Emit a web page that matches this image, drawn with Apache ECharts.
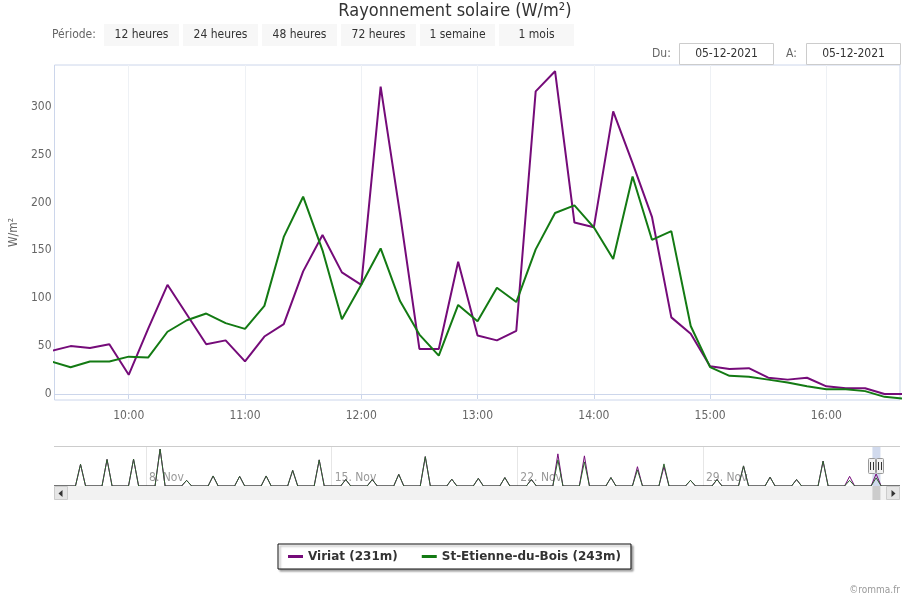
<!DOCTYPE html>
<html>
<head>
<meta charset="utf-8">
<script src="https://cdn.jsdelivr.net/npm/echarts@6/dist/echarts.min.js"></script>
<style>
html,body{margin:0;padding:0;background:#fff;}
#chart{width:910px;height:600px;}
</style>
</head>
<body>
<div id="chart"></div>
<script>
// ---- Data ----
const times = ['09:20','09:30','09:40','09:50','10:00','10:10','10:20','10:30','10:40','10:50',
  '11:00','11:10','11:20','11:30','11:40','11:50','12:00','12:10','12:20','12:30',
  '12:40','12:50','13:00','13:10','13:20','13:30','13:40','13:50','14:00','14:10',
  '14:20','14:30','14:40','14:50','15:00','15:10','15:20','15:30','15:40','15:50',
  '16:00','16:10','16:20','16:30','16:40'];
const viriat = [45,50,48,52,20,68,114,83,52,56,
  34,60,73,128,166,127,114,321,188,47,
  47,138,61,56,66,316,337,179,174,295,
  241,185,80,63,29,26,27,17,15,17,
  8,6,6,0,0];
const stEtienne = [34,28,34,34,39,38,65,77,84,74,
  68,92,164,206,150,78,114,152,97,62,
  40,93,76,111,96,151,189,197,174,141,
  227,161,170,71,28,19,18,15,12,8,
  5,5,3,-3,-5];
const xTickLabels = ['10:00','11:00','12:00','13:00','14:00','15:00','16:00'];
const yTickValues = [0,50,100,150,200,250,300];

// Navigator: daily peaks for the month (day number counted from 1 Nov: 5 = 5 Nov, 35 = 5 Dec)
const navDays = [5,6,7,8,9,10,11,12,13,14,15,16,17,18,19,20,21,22,23,24,25,26,27,28,29,30,31,32,33,34,35];
const navViriat = [605,740,750,1030,157,280,270,280,437,728,180,180,325,818,190,213,235,180,896,840,235,538,538,157,180,560,246,180,694,269,336];
const navStEtienne = [605,740,750,1030,157,280,270,280,437,728,180,180,325,818,190,213,235,180,728,672,235,450,616,157,180,560,246,180,694,157,227];
const navTickDays = [8,15,22,29];
const navTickLabels = ['8. Nov','15. Nov','22. Nov','29. Nov'];
const currentDay = 35;

const periodButtons = ['12 heures','24 heures','48 heures','72 heures','1 semaine','1 mois'];
const dateFrom = '05-12-2021';
const dateTo = '05-12-2021';

const names = ['Viriat (231m)','St-Etienne-du-Bois (243m)'];
const colors = ['#750b79','#137a13'];

// ---- helpers ----
const toMin = s => { const p = s.split(':').map(Number); return p[0]*60 + p[1]; };
const fmtMin = v => { const h = Math.floor(v/60), m = Math.round(v%60); return (h<10?'0':'')+h+':'+(m<10?'0':'')+m; };
const xTickValues = xTickLabels.map(toMin);

const X_MIN = 561.7, X_MAX = 998;
const NAV_MIN = 4.53, NAV_MAX = 36.43;

// daylight window of each day (fraction of day): sunrise, noon peak, sunset
const SUNRISE = 0.34, PEAK = 0.53, SUNSET = 0.72;
function navSeries(peaks){
  const pts = [[NAV_MIN,0]];
  navDays.forEach((d,i)=>{
    pts.push([d+SUNRISE,0],[d+PEAK,peaks[i]],[d+SUNSET,0]);
  });
  pts.push([NAV_MAX,0]);
  return pts;
}

const FONT = '"DejaVu Sans Condensed", "DejaVu Sans", sans-serif';
const FONT_LEG = '"DejaVu Sans", sans-serif';
const winStart = currentDay + X_MIN/1440;
const winEnd = currentDay + X_MAX/1440;

const chart = echarts.init(document.getElementById('chart'), null, {renderer:'canvas', width:910, height:600});

const option = {
  animation:false,
  backgroundColor:'#ffffff',
  title:{
    text:'Rayonnement solaire (W/m²)',
    left:'center', top:2, padding:0,
    textStyle:{fontSize:18, fontWeight:'normal', color:'#333333', fontFamily:FONT}
  },
  legend:{
    data:names,
    left:278, top:544,
    padding:[5,10],
    itemGap:24,
    itemWidth:15, itemHeight:3,
    icon:'rect',
    backgroundColor:'#ffffff',
    borderColor:'#111111', borderWidth:1, borderRadius:0,
    shadowColor:'rgba(0,0,0,0.35)', shadowBlur:2, shadowOffsetX:2, shadowOffsetY:2,
    textStyle:{fontSize:12, fontWeight:'bold', color:'#333333', fontFamily:FONT_LEG, lineHeight:15},
    selectedMode:false
  },
  grid:[
    {left:54, right:10, top:65, height:335, show:true, borderColor:'#ccd6eb', borderWidth:1, containLabel:false},
    {left:54, right:10, top:446, height:40, show:false, containLabel:false}
  ],
  xAxis:[
    {
      type:'value', gridIndex:0, min:X_MIN, max:X_MAX,
      axisLine:{show:true, lineStyle:{color:'#ccd6eb'}},
      axisTick:{show:true, customValues:xTickValues, length:5, lineStyle:{color:'#ccd6eb'}},
      axisLabel:{customValues:xTickValues, formatter:v=>fmtMin(v), color:'#666666', fontSize:12, margin:10, fontFamily:FONT},
      splitLine:{show:true, lineStyle:{color:'#eef1f5', width:1}}
    },
    {
      type:'value', gridIndex:1, min:NAV_MIN, max:NAV_MAX,
      axisLine:{show:false},
      axisTick:{show:false, customValues:navTickDays},
      axisLabel:{customValues:navTickDays, inside:true, align:'left', margin:2, padding:[0,0,0,3],
        formatter:v=>navTickLabels[navTickDays.indexOf(Math.round(v))] || '',
        color:'#999999', fontSize:12, fontFamily:FONT},
      splitLine:{show:true, lineStyle:{color:'#e6e6e6', width:1}}
    }
  ],
  yAxis:[
    {
      type:'value', gridIndex:0, min:-6.27, max:343.5,
      axisLine:{show:false}, axisTick:{show:false},
      axisLabel:{customValues:yTickValues, color:'#666666', fontSize:12, margin:3, padding:[3,0,0,0], fontFamily:FONT},
      splitLine:{show:false},
      name:'W/m²', nameLocation:'middle', nameGap:28, nameRotate:90,
      nameTextStyle:{color:'#666666', fontSize:12, fontFamily:FONT}
    },
    {
      type:'value', gridIndex:1, min:0, max:1115, show:false,
      splitLine:{show:false}
    }
  ],
  series:[
    {
      name:names[0], type:'line', xAxisIndex:0, yAxisIndex:0,
      data:times.map((t,i)=>[toMin(t), viriat[i]]),
      symbol:'none', clip:true, color:colors[0],
      lineStyle:{width:2, color:colors[0]}
    },
    {
      name:names[1], type:'line', xAxisIndex:0, yAxisIndex:0,
      data:times.map((t,i)=>[toMin(t), stEtienne[i]]),
      symbol:'none', clip:true, color:colors[1],
      lineStyle:{width:2, color:colors[1]}
    },
    {
      name:names[0], type:'line', xAxisIndex:1, yAxisIndex:1,
      data:navSeries(navViriat), symbol:'none', silent:true, color:colors[0],
      lineStyle:{width:1, color:colors[0]}
    },
    {
      name:names[1], type:'line', xAxisIndex:1, yAxisIndex:1,
      data:navSeries(navStEtienne), symbol:'none', silent:true, color:colors[1],
      lineStyle:{width:1, color:'#2d632d'},
      markArea:{silent:true, itemStyle:{color:'rgba(102,133,194,0.3)'},
        data:[[{xAxis:winStart},{xAxis:winEnd}]]}
    }
  ]
};
chart.setOption(option);

// ---- UI decorations (range selector, navigator scrollbar and handles) ----
const p0 = chart.convertToPixel({xAxisIndex:1}, winStart);
const p1 = chart.convertToPixel({xAxisIndex:1}, winEnd);
const gfx = [];
const txt = (x,y,s,fill,align,size,weight) => ({type:'text', x:x, y:y, z:50,
  style:{text:s, fill:fill, align:align||'left', verticalAlign:'middle',
    font:(weight||'normal')+' '+(size||12)+'px '+FONT}});
gfx.push(txt(52,35,'Période:','#666666'));
periodButtons.forEach((b,i)=>{
  gfx.push({type:'rect', z:40, shape:{x:104+79*i, y:24, width:75, height:22}, style:{fill:'#f7f7f7'}});
  gfx.push(txt(141.5+79*i,35,b,'#333333','center'));
});
gfx.push(txt(652,54,'Du:','#666666'));
gfx.push({type:'rect', z:40, shape:{x:679.5, y:43.5, width:94, height:21}, style:{fill:'#ffffff', stroke:'#cccccc', lineWidth:1}});
gfx.push(txt(726.5,54,dateFrom,'#333333','center'));
gfx.push(txt(786,54,'A:','#666666'));
gfx.push({type:'rect', z:40, shape:{x:806.5, y:43.5, width:94, height:21}, style:{fill:'#ffffff', stroke:'#cccccc', lineWidth:1}});
gfx.push(txt(853.5,54,dateTo,'#333333','center'));
// navigator outline
gfx.push({type:'line', z:45, shape:{x1:54, y1:446.5, x2:900, y2:446.5}, style:{stroke:'#cccccc', lineWidth:1}});
// scrollbar
gfx.push({type:'rect', z:40, shape:{x:54, y:486, width:846, height:14}, style:{fill:'#f2f2f2'}});
gfx.push({type:'rect', z:41, shape:{x:p0, y:486, width:Math.max(p1-p0,2), height:14}, style:{fill:'#cccccc'}});
gfx.push({type:'rect', z:41, shape:{x:54.5, y:486.5, width:13, height:13}, style:{fill:'#e6e6e6', stroke:'#cccccc', lineWidth:1}});
gfx.push({type:'polygon', z:42, shape:{points:[[62.5,490],[62.5,497],[58.5,493.5]]}, style:{fill:'#333333'}});
gfx.push({type:'rect', z:41, shape:{x:886.5, y:486.5, width:13, height:13}, style:{fill:'#e6e6e6', stroke:'#cccccc', lineWidth:1}});
gfx.push({type:'polygon', z:42, shape:{points:[[891.5,490],[891.5,497],[895.5,493.5]]}, style:{fill:'#333333'}});
// handles
[p0,p1].forEach(px=>{
  const x = Math.round(px);
  gfx.push({type:'rect', z:60, shape:{x:x-3.5, y:458.5, width:7, height:15, r:1}, style:{fill:'#f2f2f2', stroke:'#999999', lineWidth:1}});
  gfx.push({type:'line', z:61, shape:{x1:x-1.5, y1:462, x2:x-1.5, y2:470}, style:{stroke:'#333333', lineWidth:1}});
  gfx.push({type:'line', z:61, shape:{x1:x+1.5, y1:462, x2:x+1.5, y2:470}, style:{stroke:'#333333', lineWidth:1}});
});
gfx.push(txt(900,590,'©romma.fr','#999999','right',10));
chart.setOption({graphic:gfx});
</script>
</body>
</html>
